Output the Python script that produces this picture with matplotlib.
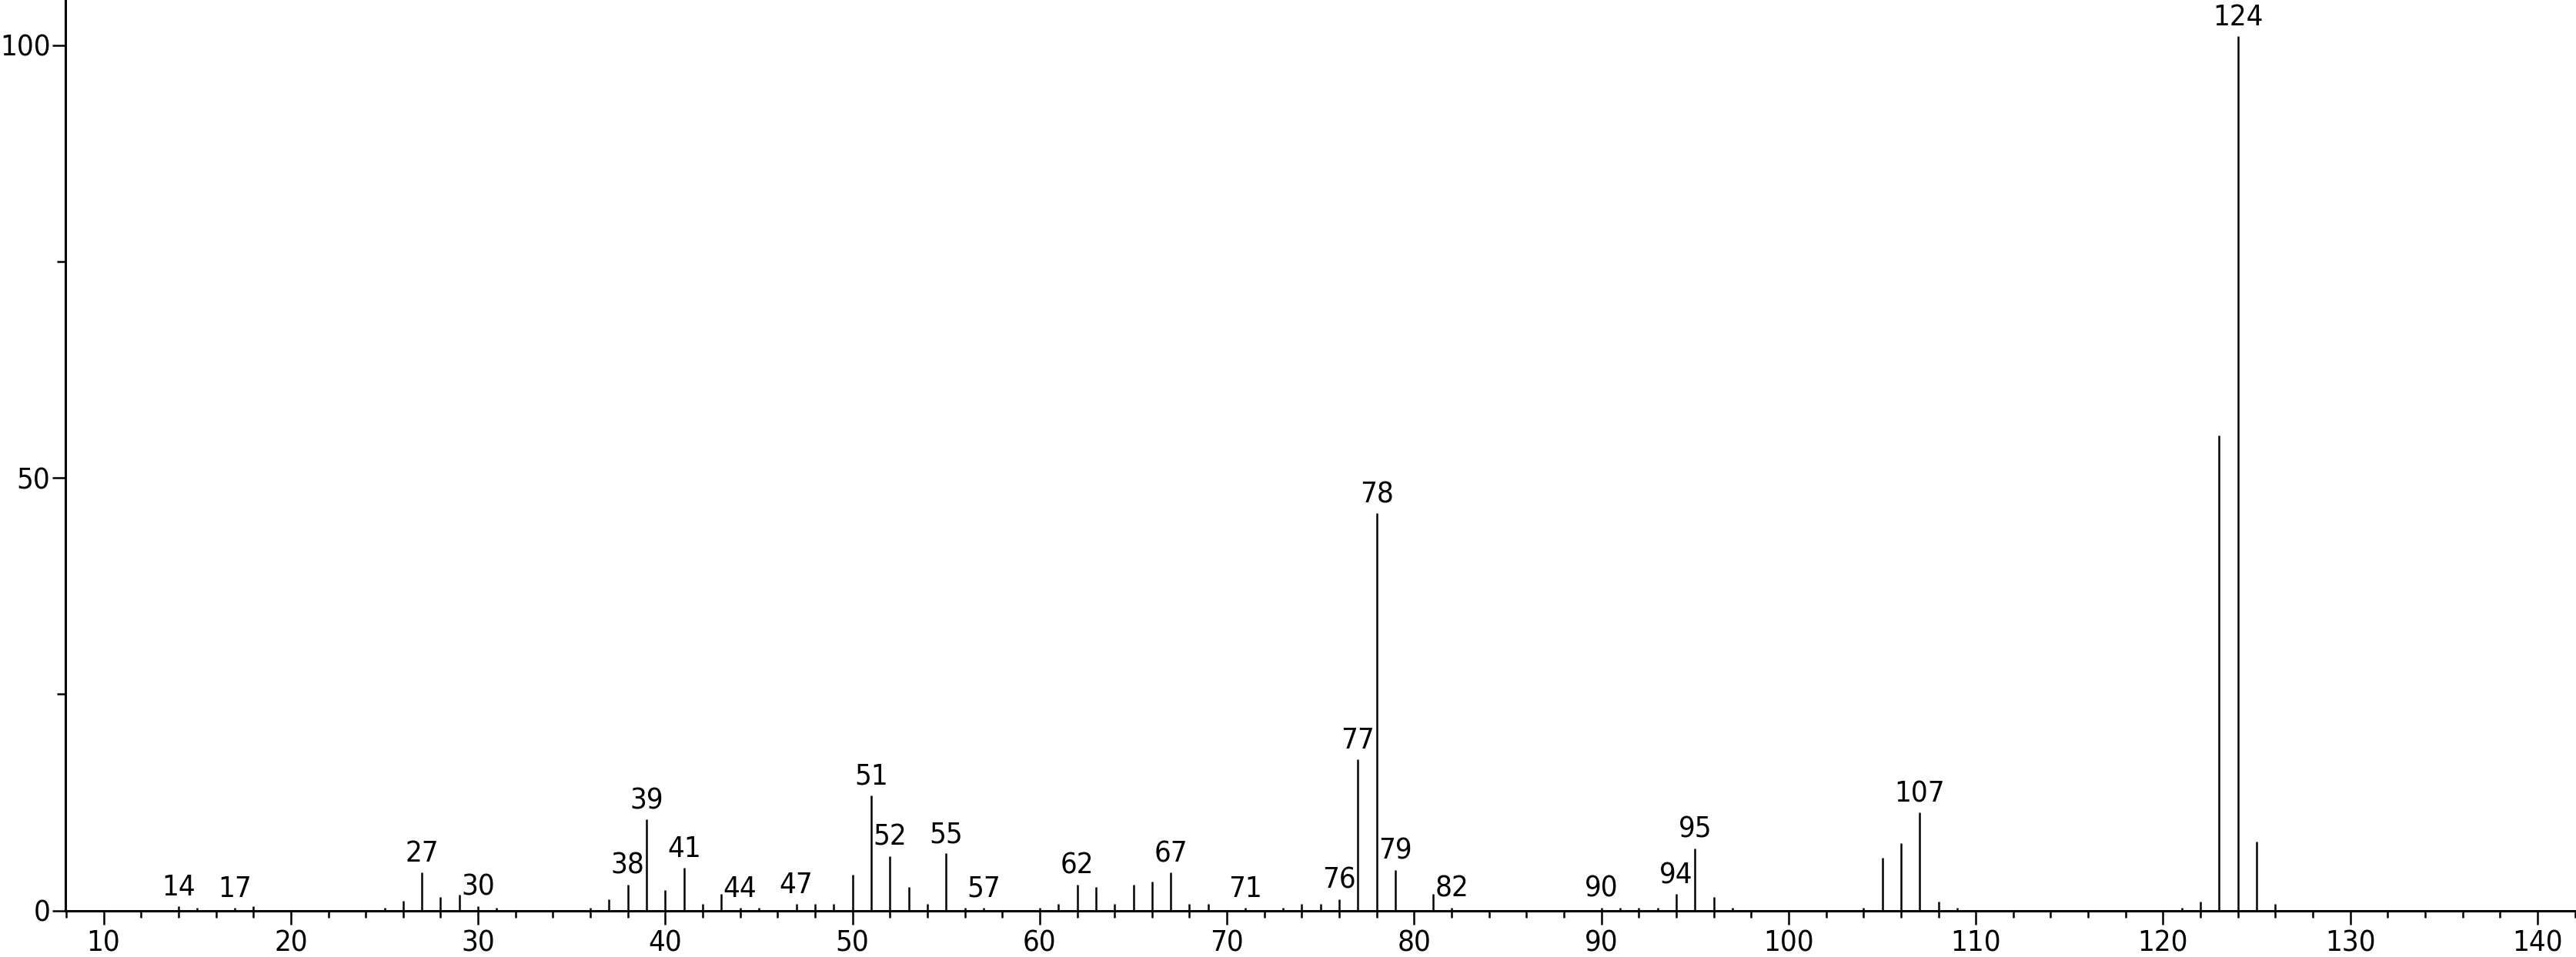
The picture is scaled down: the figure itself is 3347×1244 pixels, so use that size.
import matplotlib
matplotlib.use("Agg")
import matplotlib.pyplot as plt
from matplotlib import font_manager
from matplotlib.ticker import MultipleLocator, FixedLocator

# ---- data ----
mz = [14, 15, 17, 18, 25, 26, 27, 28, 29, 30, 31, 36, 37, 38, 39, 40, 41, 42, 43, 44,
      45, 47, 48, 49, 50, 51, 52, 53, 54, 55, 56, 57, 60, 61, 62, 63, 64, 65, 66, 67,
      68, 69, 71, 73, 74, 75, 76, 77, 78, 79, 81, 82, 90, 91, 92, 93, 94, 95, 96, 97,
      104, 105, 106, 107, 108, 109, 121, 122, 123, 124, 125, 126]
intensity = [0.5, 0.35, 0.35, 0.5, 0.35, 1.1, 4.4, 1.6, 1.8, 0.5, 0.35, 0.35, 1.3, 3.0, 10.5, 2.4, 4.9, 0.75, 1.9, 0.35,
             0.35, 0.75, 0.75, 0.75, 4.1, 13.3, 6.3, 2.7, 0.75, 6.6, 0.35, 0.35, 0.35, 0.75, 3.0, 2.7, 0.75, 3.0, 3.3, 4.4,
             0.75, 0.75, 0.35, 0.35, 0.75, 0.75, 1.3, 17.5, 45.9, 4.7, 1.9, 0.35, 0.35, 0.35, 0.35, 0.35, 1.9, 7.2, 1.6, 0.35,
             0.35, 6.1, 7.8, 11.3, 1.0, 0.35, 0.35, 1.0, 54.9, 101.0, 8.0, 0.75]
labeled = [14, 17, 27, 30, 38, 39, 41, 44, 47, 51, 52, 55, 57, 62, 67, 71, 76, 77, 78, 79,
           82, 90, 94, 95, 107, 124]
x_major = list(range(10, 141, 10))
y_major = [0, 50, 100]
y_minor = [25, 75]

# ---- font ----
names = {f.name for f in font_manager.fontManager.ttflist}
stretch = "normal"
if "Liberation Sans Narrow" in names:
    fam = ["Liberation Sans Narrow", "DejaVu Sans"]
    fsize = 29
else:
    fam = ["DejaVu Sans"]
    stretch = "condensed"
    fsize = 27.5
plt.rcParams["font.family"] = fam
plt.rcParams["font.stretch"] = stretch

W, H = 3348, 1244
fig = plt.figure(figsize=(W / 100, H / 100), dpi=100)
left = 85 / W
base = 1183.5
ax = fig.add_axes([left, (H - base) / H, 1 - left, base / H])
ax.set_xlim(7.96, 142.1)
ax.set_ylim(0, 105.2)

ax.vlines(mz, 0, intensity, color="black", linewidth=1.8)

lookup = dict(zip(mz, intensity))
for m in labeled:
    ax.annotate(str(m), xy=(m, lookup[m]), xytext=(0, 10), textcoords="offset points",
                ha="center", va="baseline", fontsize=fsize, color="black")

for s in ["top", "right"]:
    ax.spines[s].set_visible(False)
for s in ["left", "bottom"]:
    ax.spines[s].set_linewidth(2.2)
    ax.spines[s].set_color("black")

ax.xaxis.set_major_locator(FixedLocator(x_major))
ax.xaxis.set_minor_locator(MultipleLocator(2))
ax.yaxis.set_major_locator(FixedLocator(y_major))
ax.yaxis.set_minor_locator(FixedLocator(y_minor))
ax.tick_params(axis="x", which="major", direction="out", length=13, width=1.8, pad=5,
               labelsize=fsize)
ax.tick_params(axis="x", which="minor", direction="out", length=6.5, width=1.8)
ax.tick_params(axis="y", which="major", direction="out", length=12.5, width=1.8, pad=1.5,
               labelsize=fsize)
ax.tick_params(axis="y", which="minor", direction="out", length=8, width=1.8)
ax.set_xticklabels([str(v) for v in x_major])
ax.set_yticklabels([str(v) for v in y_major])
ax.patch.set_visible(False)

fig.savefig("out.png", dpi=100, facecolor="white")
